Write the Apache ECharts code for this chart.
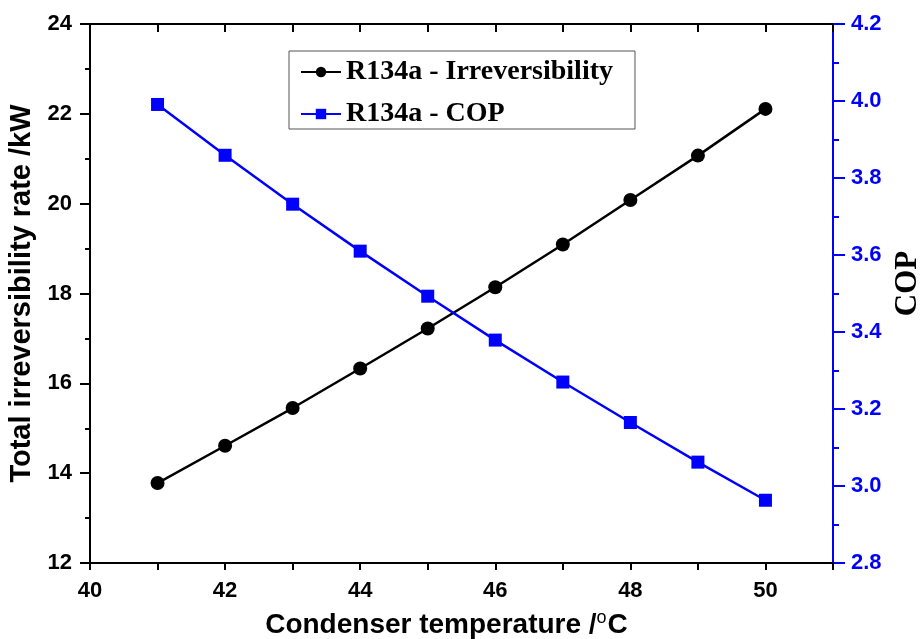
<!DOCTYPE html>
<html>
<head>
<meta charset="utf-8">
<script src="https://cdn.jsdelivr.net/npm/echarts@6/dist/echarts.min.js"></script>
<style>
html,body{margin:0;padding:0;background:#fff;}
#chart{width:922px;height:639px;}
</style>
</head>
<body>
<div id="chart"></div>
<script>
// Data
var temperatures = [41, 42, 43, 44, 45, 46, 47, 48, 49, 50];
var irreversibility = [13.78, 14.61, 15.45, 16.33, 17.22, 18.14, 19.09, 20.08, 21.07, 22.11];
var cop = [3.991, 3.859, 3.732, 3.610, 3.493, 3.379, 3.270, 3.165, 3.062, 2.963];
var seriesNames = ['R134a - Irreversibility', 'R134a - COP'];

var irrData = temperatures.map(function (t, i) { return [t, irreversibility[i]]; });
var copData = temperatures.map(function (t, i) { return [t, cop[i]]; });

var sans = 'Liberation Sans';
var serif = 'Liberation Serif';

var chart = echarts.init(document.getElementById('chart'), null, {renderer: 'canvas'});
chart.setOption({
  animation: false,
  backgroundColor: '#ffffff',
  grid: {left: 90, right: 89, top: 24, bottom: 76, containLabel: false, outerBoundsMode: 'none'},
  legend: {
    left: 289, top: 51,
    orient: 'vertical',
    data: seriesNames,
    itemWidth: 40, itemHeight: 13,
    itemGap: 12,
    padding: [6, 22, 0, 11],
    borderColor: '#555', borderWidth: 1,
    backgroundColor: '#fff',
    textStyle: {fontFamily: serif, fontWeight: 'bold', fontSize: 28, color: '#000', lineHeight: 30}
  },
  xAxis: [{
    type: 'value', position: 'bottom',
    min: 40, max: 51, interval: 1,
    axisLine: {show: true, lineStyle: {color: '#000', width: 2}},
    axisTick: {show: true, inside: false, length: 7, lineStyle: {color: '#000', width: 2}},
    axisLabel: {
      margin: 17, color: '#000', fontFamily: sans, fontWeight: 'bold', fontSize: 22,
      formatter: function (v) { return v % 2 === 0 ? String(v) : ''; }
    },
    splitLine: {show: false},
    name: '{t|Condenser temperature /}{sup|o}{t|C}',
    nameLocation: 'middle', nameGap: 47,
    nameTextStyle: {
      fontFamily: sans, fontWeight: 'bold', fontSize: 28, color: '#000', lineHeight: 30,
      padding: [0, 30, 0, 0],
      rich: {
        t: {fontFamily: sans, fontWeight: 'bold', fontSize: 28, color: '#000', lineHeight: 30},
        sup: {fontFamily: sans, fontWeight: 'normal', fontSize: 18, color: '#000', lineHeight: 16, padding: [0, 1, 14, 0]}
      }
    }
  }, {
    type: 'value', position: 'top',
    min: 40, max: 51, interval: 1,
    axisLine: {show: true, lineStyle: {color: '#000', width: 2}},
    axisTick: {show: true, inside: true, length: 8, lineStyle: {color: '#000', width: 2}},
    axisLabel: {show: false},
    splitLine: {show: false}
  }],
  yAxis: [{
    type: 'value', position: 'left',
    min: 12, max: 24, interval: 2,
    axisLine: {show: true, lineStyle: {color: '#000', width: 2}},
    axisTick: {show: true, inside: false, length: 10, lineStyle: {color: '#000', width: 2}},
    minorTick: {show: true, splitNumber: 2, length: 5, lineStyle: {color: '#000', width: 2}},
    axisLabel: {margin: 18, color: '#000', fontFamily: sans, fontWeight: 'bold', fontSize: 22},
    splitLine: {show: false},
    name: 'Total irreversibility rate /kW',
    nameLocation: 'middle', nameGap: 52, nameRotate: 90,
    nameTextStyle: {fontFamily: sans, fontWeight: 'bold', fontSize: 29, color: '#000'}
  }, {
    type: 'value', position: 'right',
    min: 2.8, max: 4.2, interval: 0.2,
    axisLine: {show: true, lineStyle: {color: '#0000ff', width: 2}},
    axisTick: {show: true, inside: false, length: 12, lineStyle: {color: '#0000ff', width: 2}},
    minorTick: {show: true, splitNumber: 2, length: 6, lineStyle: {color: '#0000ff', width: 2}},
    axisLabel: {margin: 18, color: '#0000ff', fontFamily: sans, fontWeight: 'bold', fontSize: 22,
      formatter: function (v) { return v.toFixed(1); }},
    splitLine: {show: false},
    name: 'COP',
    nameLocation: 'middle', nameGap: 57, nameRotate: 90,
    nameTextStyle: {fontFamily: serif, fontWeight: 'bold', fontSize: 31, color: '#000', padding: [0, 0, 0, 20]}
  }],
  series: [{
    name: seriesNames[0], type: 'line',
    xAxisIndex: 0, yAxisIndex: 0,
    data: irrData,
    symbol: 'circle', symbolSize: 14,
    lineStyle: {color: '#000', width: 2.5},
    itemStyle: {color: '#000'}
  }, {
    name: seriesNames[1], type: 'line',
    xAxisIndex: 0, yAxisIndex: 1,
    data: copData,
    symbol: 'rect', symbolSize: 13,
    lineStyle: {color: '#0000ff', width: 2.5},
    itemStyle: {color: '#0000ff'}
  }]
});
</script>
</body>
</html>
